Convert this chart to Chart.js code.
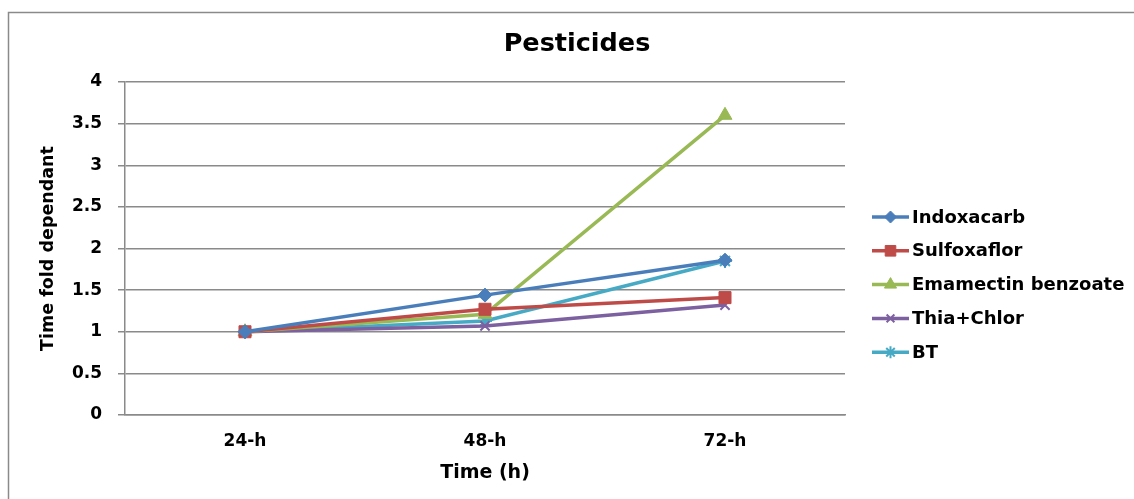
<!DOCTYPE html>
<html>
<head>
<meta charset="utf-8">
<script src="https://cdn.jsdelivr.net/npm/chart.js@4.4.1/dist/chart.umd.min.js"></script>
<style>
html,body{margin:0;padding:0;background:#fff;}
#wrap{width:1134px;height:499px;position:relative;}
</style>
</head>
<body>
<div id="wrap"><canvas id="c" width="1134" height="499"></canvas></div>
<script>
const categories = ['24-h', '48-h', '72-h'];
const seriesNames = ['Indoxacarb', 'Sulfoxaflor', 'Emamectin benzoate', 'Thia+Chlor', 'BT'];
const indoxacarb = [1, 1.44, 1.86];
const sulfoxaflor = [1, 1.27, 1.41];
const emamectin = [1, 1.21, 3.6];
const thiaChlor = [1, 1.07, 1.32];
const bt = [1, 1.13, 1.85];
const yTicks = [0, 0.5, 1, 1.5, 2, 2.5, 3, 3.5, 4];
const chartTitle = 'Pesticides';

const colors = ['#4a7ebb', '#be4b48', '#98b954', '#7d60a0', '#46aac5'];
const markers = ['rectRot', 'rect', 'triangle', 'crossRot', 'star'];
const radii = [7, 8.5, 8, 6.5, 7];
const values = [indoxacarb, sulfoxaflor, emamectin, thiaChlor, bt];
const FONT = "'DejaVu Sans', Verdana, sans-serif";

const datasets = seriesNames.map((n, i) => ({
  label: n,
  data: values[i],
  borderColor: colors[i],
  backgroundColor: colors[i],
  borderWidth: 3.5,
  pointStyle: markers[i],
  pointRadius: radii[i],
  pointHoverRadius: radii[i],
  pointBorderColor: colors[i],
  pointBackgroundColor: colors[i],
  pointBorderWidth: (markers[i] === 'crossRot' || markers[i] === 'star') ? 2 : 1,
  tension: 0
}));

const frame = {
  id: 'frame',
  beforeDraw(chart) {
    const ctx = chart.ctx;
    ctx.save();
    ctx.fillStyle = '#fff';
    ctx.fillRect(0, 0, chart.width, chart.height);
    ctx.strokeStyle = '#8a8a8a';
    ctx.lineWidth = 1.5;
    ctx.strokeRect(8.5, 12.5, 2000, 2000);
    ctx.fillStyle = '#000';
    ctx.font = 'bold 25.5px ' + FONT;
    ctx.textAlign = 'center';
    ctx.textBaseline = 'middle';
    ctx.fillText(chartTitle, 577, 44);
    ctx.restore();
  }
};

const customLegend = {
  id: 'customLegend',
  afterDraw(chart) {
    const ctx = chart.ctx;
    ctx.save();
    const x0 = 872, x1 = 909, tx = 912, y0 = 217, dy = 33.8;
    chart.data.datasets.forEach((ds, i) => {
      const y = y0 + i * dy;
      ctx.strokeStyle = ds.borderColor;
      ctx.lineWidth = 3.5;
      ctx.beginPath();
      ctx.moveTo(x0, y);
      ctx.lineTo(x1, y);
      ctx.stroke();
      ctx.fillStyle = ds.borderColor;
      ctx.strokeStyle = ds.borderColor;
      ctx.lineWidth = ds.pointBorderWidth;
      Chart.helpers.drawPoint(ctx, {pointStyle: ds.pointStyle, radius: ds.pointRadius - 1, borderWidth: ds.pointBorderWidth, rotation: 0}, (x0 + x1) / 2, y);
      ctx.fillStyle = '#000';
      ctx.font = 'bold 18px ' + FONT;
      ctx.textAlign = 'left';
      ctx.textBaseline = 'middle';
      ctx.fillText(ds.label, tx, y + 1);
    });
    ctx.restore();
  }
};

new Chart(document.getElementById('c'), {
  type: 'line',
  data: { labels: categories, datasets },
  plugins: [frame, customLegend],
  options: {
    responsive: false,
    animation: false,
    devicePixelRatio: 1,
    layout: { padding: { left: 0, right: 289, top: 82, bottom: 0 } },
    plugins: {
      legend: { display: false },
      tooltip: { enabled: false },
      title: { display: false }
    },
    scales: {
      x: {
        offset: true,
        grid: { display: false, drawTicks: false },
        border: { display: true, color: '#8a8a8a', width: 1.5 },
        ticks: { color: '#000', padding: 16, font: { family: FONT, size: 17, weight: 'bold' } },
        title: { display: true, text: 'Time (h)', color: '#000', padding: { top: 0, bottom: 15 }, font: { family: FONT, size: 19, weight: 'bold', lineHeight: 1.2 } },
        afterFit(s) { s.height = 84; }
      },
      y: {
        min: 0, max: 4,
        afterBuildTicks(s) { s.ticks = yTicks.map(v => ({ value: v })); },
        grid: { color: '#8a8a8a', lineWidth: 1.5, drawTicks: true, tickLength: 7 },
        border: { display: true, color: '#8a8a8a', width: 1.5 },
        ticks: { color: '#000', padding: 16, font: { family: FONT, size: 17, weight: 'bold' }, callback: v => String(v) },
        title: { display: true, text: 'Time fold dependant', color: '#000', padding: { top: 38, bottom: 0 }, font: { family: FONT, size: 17.5, weight: 'bold', lineHeight: 1.2 } },
        afterFit(s) { s.width = 125; }
      }
    }
  }
});
</script>
</body>
</html>
